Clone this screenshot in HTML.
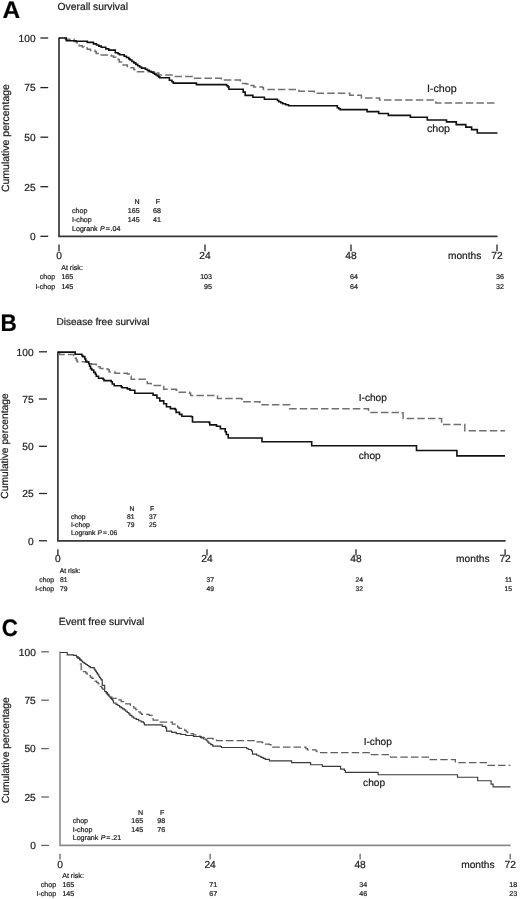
<!DOCTYPE html>
<html><head><meta charset="utf-8"><title>Survival curves</title>
<style>
html,body{margin:0;padding:0;background:#fff;}
body{width:520px;height:899px;overflow:hidden;}
svg{display:block;}
text{font-family:"Liberation Sans", Arial, sans-serif;text-rendering:geometricPrecision;stroke:#222;stroke-width:0.22px;}
</style></head>
<body>
<svg width="520" height="899" viewBox="0 0 520 899">
<rect width="520" height="899" fill="#fff"/>
<text transform="translate(2.6,18.0) scale(1.02,1)" font-size="24" font-weight="bold" fill="#000">A</text>
<text x="57.6" y="9.6" font-size="10.3" fill="#1a1a1a">Overall survival</text>
<text transform="translate(9.0,138.1) rotate(-90)" text-anchor="middle" font-size="10.5" fill="#1a1a1a">Cumulative percentage</text>
<line x1="40.4" y1="38.0" x2="48.2" y2="38.0" stroke="#222" stroke-width="1.3"/>
<text x="35.6" y="41.8" text-anchor="end" font-size="10.2" fill="#1a1a1a">100</text>
<line x1="40.4" y1="87.6" x2="48.2" y2="87.6" stroke="#222" stroke-width="1.3"/>
<text x="35.6" y="91.4" text-anchor="end" font-size="10.2" fill="#1a1a1a">75</text>
<line x1="40.4" y1="137.2" x2="48.2" y2="137.2" stroke="#222" stroke-width="1.3"/>
<text x="35.6" y="141.0" text-anchor="end" font-size="10.2" fill="#1a1a1a">50</text>
<line x1="40.4" y1="186.7" x2="48.2" y2="186.7" stroke="#222" stroke-width="1.3"/>
<text x="35.6" y="190.5" text-anchor="end" font-size="10.2" fill="#1a1a1a">25</text>
<line x1="40.4" y1="236.3" x2="48.2" y2="236.3" stroke="#222" stroke-width="1.3"/>
<text x="35.6" y="240.1" text-anchor="end" font-size="10.2" fill="#1a1a1a">0</text>
<polyline points="59.0,37.6 59.0,236.3 497.5,236.3" fill="none" stroke="#383838" stroke-width="1.7"/>
<line x1="59.0" y1="244.4" x2="59.0" y2="251.2" stroke="#222" stroke-width="1.3"/>
<text x="59.0" y="259.0" text-anchor="middle" font-size="10.2" fill="#1a1a1a">0</text>
<line x1="205.0" y1="244.4" x2="205.0" y2="251.2" stroke="#222" stroke-width="1.3"/>
<text x="205.0" y="259.0" text-anchor="middle" font-size="10.2" fill="#1a1a1a">24</text>
<line x1="351.0" y1="244.4" x2="351.0" y2="251.2" stroke="#222" stroke-width="1.3"/>
<text x="351.0" y="259.0" text-anchor="middle" font-size="10.2" fill="#1a1a1a">48</text>
<line x1="497.0" y1="244.4" x2="497.0" y2="251.2" stroke="#222" stroke-width="1.3"/>
<text x="497.0" y="259.0" text-anchor="middle" font-size="10.2" fill="#1a1a1a">72</text>
<text x="481.4" y="259.0" text-anchor="end" font-size="10.2" fill="#1a1a1a">months</text>
<text x="61.199999999999996" y="270.0" font-size="7.1" fill="#222">At risk:</text>
<text x="55.1" y="279.2" text-anchor="end" font-size="7.1" fill="#222">chop</text>
<text x="55.1" y="288.5" text-anchor="end" font-size="7.1" fill="#222">I-chop</text>
<text x="61.4" y="279.2" font-size="7.1" fill="#222">165</text>
<text x="61.4" y="288.5" font-size="7.1" fill="#222">145</text>
<text x="212.0" y="279.2" text-anchor="end" font-size="7.1" fill="#222">103</text>
<text x="212.0" y="288.5" text-anchor="end" font-size="7.1" fill="#222">95</text>
<text x="358.0" y="279.2" text-anchor="end" font-size="7.1" fill="#222">64</text>
<text x="358.0" y="288.5" text-anchor="end" font-size="7.1" fill="#222">64</text>
<text x="504.0" y="279.2" text-anchor="end" font-size="7.1" fill="#222">36</text>
<text x="504.0" y="288.5" text-anchor="end" font-size="7.1" fill="#222">32</text>
<text x="139.7" y="204.3" text-anchor="end" font-size="7.1" fill="#222">N</text>
<text x="157.8" y="204.3" text-anchor="middle" font-size="7.1" fill="#222">F</text>
<text x="72.0" y="213.0" font-size="7.1" fill="#222">chop</text>
<text x="72.0" y="222.3" font-size="7.1" fill="#222">I-chop</text>
<text x="72.0" y="231.1" font-size="7.1" fill="#222">Logrank <tspan dx="0.4" font-style="italic">P</tspan><tspan dx="0.9">=</tspan><tspan dx="0.8">.04</tspan></text>
<text x="139.7" y="213.0" text-anchor="end" font-size="7.1" fill="#222">165</text>
<text x="161.0" y="213.0" text-anchor="end" font-size="7.1" fill="#222">68</text>
<text x="139.7" y="222.3" text-anchor="end" font-size="7.1" fill="#222">145</text>
<text x="161.0" y="222.3" text-anchor="end" font-size="7.1" fill="#222">41</text>
<text x="426.9" y="92.1" font-size="10.7" fill="#1a1a1a">I-chop</text>
<text x="426.9" y="132.0" font-size="10.7" fill="#1a1a1a">chop</text>
<polyline points="64.5,38.0 65.5,38.0 65.5,39.3 73.0,39.3 74.0,39.3 74.0,41.4 74.9,41.4 76.5,41.4 76.5,42.7 78.0,42.7 78.0,44.0 79.2,44.0 79.2,45.7 80.4,45.7 82.3,45.7 82.3,46.9 84.2,46.9 84.2,48.1 87.3,48.1 87.3,49.2 90.4,49.2 90.4,50.4 95.0,50.4 95.0,51.6 96.2,51.6 96.2,53.5 97.3,53.5 101.2,53.5 101.2,55.0 108.8,55.0 111.2,55.0 111.2,56.1 113.5,56.1 113.5,57.3 115.8,57.3 115.8,58.5 118.1,58.5 118.1,59.6 119.2,59.6 119.2,61.9 120.4,61.9 121.6,61.9 121.6,65.0 122.7,65.0 127.3,65.0 127.3,66.6 130.0,66.6 130.0,67.7 133.8,67.7 133.8,69.6 134.8,69.6 134.8,71.7 135.8,71.7 155.0,71.7 155.0,73.1 158.8,73.1 158.8,75.0 170.4,75.0 174.2,75.0 174.2,76.4 191.5,76.4 192.5,76.4 192.5,78.3 193.5,78.3 220.4,78.3 221.4,78.3 221.4,80.1 222.3,80.1 239.4,80.1 240.4,80.1 240.4,83.4 246.2,83.4 246.2,83.9 250.0,83.9 250.0,85.4 253.8,85.4 253.8,86.9 262.5,86.9 262.5,87.4 263.4,87.4 263.4,89.6 264.4,89.6 296.2,89.6 299.0,89.6 299.0,91.2 313.5,91.2 314.4,91.2 314.4,93.3 315.4,93.3 348.8,93.3 349.8,93.3 349.8,95.2 350.8,95.2 360.4,95.2 361.4,95.2 361.4,97.9 362.3,97.9 378.7,97.9 379.6,97.9 379.6,100.1 435.0,100.1 435.9,100.1 435.9,103.1 436.9,103.1 497.5,103.1" fill="none" stroke="#707070" stroke-width="1.5" stroke-dasharray="7.5 3.1" stroke-linejoin="miter"/>
<polyline points="59.0,38.0 65.4,38.0 66.3,38.0 66.3,40.7 67.3,40.7 73.0,40.7 76.0,40.8 76.0,41.3 82.7,41.3 87.3,41.3 87.3,42.4 93.5,42.4 93.5,43.9 96.5,43.9 96.5,45.0 98.8,45.0 98.8,46.1 101.2,46.1 101.2,47.3 105.8,47.3 105.8,48.9 108.8,48.9 108.8,50.1 114.2,50.1 115.3,50.1 115.3,52.7 116.5,52.7 118.0,52.7 118.0,53.7 119.6,53.7 119.6,54.7 124.2,54.7 124.2,56.2 126.5,56.2 126.5,57.5 128.8,57.5 128.8,58.9 130.0,58.9 130.0,60.0 131.9,60.0 131.9,61.5 133.8,61.5 133.8,62.9 135.8,62.9 135.8,64.4 137.7,64.4 137.7,65.8 139.6,65.8 139.6,67.0 141.5,67.0 141.5,68.1 145.4,68.1 145.4,69.2 147.3,69.2 147.3,70.2 149.2,70.2 149.2,71.2 151.1,71.2 151.1,72.2 153.1,72.2 153.1,73.1 154.6,73.1 154.6,74.1 156.0,74.1 156.0,75.0 157.4,75.0 157.4,76.0 158.8,76.0 158.8,76.9 159.8,76.9 159.8,77.7 160.8,77.7 168.5,77.7 169.4,77.7 169.4,80.2 170.4,80.2 171.9,80.2 171.9,81.7 173.3,81.7 173.3,83.1 195.4,83.1 196.4,83.1 196.4,84.6 197.3,84.6 225.2,84.6 226.6,84.6 226.6,85.8 228.0,85.8 228.0,86.9 228.9,86.9 228.9,89.2 229.8,89.2 242.3,89.2 243.2,89.2 243.2,92.1 244.2,92.1 245.2,92.1 245.2,95.4 246.2,95.4 251.9,95.4 252.9,95.4 252.9,97.3 253.8,97.3 263.5,97.3 264.4,97.3 264.4,99.2 276.0,99.2 277.4,99.2 277.4,100.5 278.8,100.5 278.8,101.7 280.8,101.7 280.8,102.7 282.7,102.7 282.7,103.7 285.6,103.7 285.6,104.8 288.5,104.8 288.5,105.8 336.3,105.8 337.3,105.8 337.3,107.7 338.8,107.7 338.8,108.7 340.2,108.7 340.2,109.6 366.2,109.6 367.1,109.6 367.1,111.6 377.7,111.6 378.7,111.6 378.7,113.5 387.3,113.5 388.3,113.5 388.3,115.4 409.4,115.4 410.4,115.4 410.4,117.3 426.3,117.3 427.3,117.3 427.3,120.0 428.3,120.0 445.6,120.0 446.5,120.0 446.5,121.9 455.2,121.9 456.2,121.9 456.2,124.6 464.8,124.6 465.8,124.6 465.8,127.1 470.6,127.1 471.6,127.1 471.6,129.6 472.5,129.6 476.3,129.6 477.3,129.6 477.3,133.0 478.3,133.0 497.5,133.0" fill="none" stroke="#111" stroke-width="1.6" stroke-linejoin="miter"/>
<text transform="translate(0.5,331.2) scale(0.94,1)" font-size="24" font-weight="bold" fill="#000">B</text>
<text x="56.6" y="325.0" font-size="10.0" fill="#1a1a1a">Disease free survival</text>
<text transform="translate(8.4,446.0) rotate(-90)" text-anchor="middle" font-size="10.25" fill="#1a1a1a">Cumulative percentage</text>
<line x1="38.9" y1="351.8" x2="47.0" y2="351.8" stroke="#282828" stroke-width="1.3"/>
<text x="33.6" y="355.6" text-anchor="end" font-size="10.2" fill="#1a1a1a">100</text>
<line x1="38.9" y1="399.0" x2="47.0" y2="399.0" stroke="#282828" stroke-width="1.3"/>
<text x="33.6" y="402.8" text-anchor="end" font-size="10.2" fill="#1a1a1a">75</text>
<line x1="38.9" y1="446.3" x2="47.0" y2="446.3" stroke="#282828" stroke-width="1.3"/>
<text x="33.6" y="450.1" text-anchor="end" font-size="10.2" fill="#1a1a1a">50</text>
<line x1="38.9" y1="493.5" x2="47.0" y2="493.5" stroke="#282828" stroke-width="1.3"/>
<text x="33.6" y="497.3" text-anchor="end" font-size="10.2" fill="#1a1a1a">25</text>
<line x1="38.9" y1="540.8" x2="47.0" y2="540.8" stroke="#282828" stroke-width="1.3"/>
<text x="33.6" y="544.6" text-anchor="end" font-size="10.2" fill="#1a1a1a">0</text>
<polyline points="57.9,351.4 57.9,540.8 505.6,540.8" fill="none" stroke="#383838" stroke-width="1.7"/>
<line x1="57.9" y1="549.2" x2="57.9" y2="555.4" stroke="#282828" stroke-width="1.3"/>
<text x="57.9" y="562.4" text-anchor="middle" font-size="10.2" fill="#1a1a1a">0</text>
<line x1="207.0" y1="549.2" x2="207.0" y2="555.4" stroke="#282828" stroke-width="1.3"/>
<text x="207.0" y="562.4" text-anchor="middle" font-size="10.2" fill="#1a1a1a">24</text>
<line x1="356.0" y1="549.2" x2="356.0" y2="555.4" stroke="#282828" stroke-width="1.3"/>
<text x="356.0" y="562.4" text-anchor="middle" font-size="10.2" fill="#1a1a1a">48</text>
<line x1="505.1" y1="549.2" x2="505.1" y2="555.4" stroke="#282828" stroke-width="1.3"/>
<text x="505.1" y="562.4" text-anchor="middle" font-size="10.2" fill="#1a1a1a">72</text>
<text x="489.5" y="562.4" text-anchor="end" font-size="10.2" fill="#1a1a1a">months</text>
<text x="59.8" y="572.8" font-size="6.75" fill="#222">At risk:</text>
<text x="54.0" y="581.8" text-anchor="end" font-size="6.75" fill="#222">chop</text>
<text x="54.0" y="590.8" text-anchor="end" font-size="6.75" fill="#222">I-chop</text>
<text x="60.0" y="581.8" font-size="6.75" fill="#222">81</text>
<text x="60.0" y="590.8" font-size="6.75" fill="#222">79</text>
<text x="214.0" y="581.8" text-anchor="end" font-size="6.75" fill="#222">37</text>
<text x="214.0" y="590.8" text-anchor="end" font-size="6.75" fill="#222">49</text>
<text x="363.0" y="581.8" text-anchor="end" font-size="6.75" fill="#222">24</text>
<text x="363.0" y="590.8" text-anchor="end" font-size="6.75" fill="#222">32</text>
<text x="512.1" y="581.8" text-anchor="end" font-size="6.75" fill="#222">11</text>
<text x="512.1" y="590.8" text-anchor="end" font-size="6.75" fill="#222">15</text>
<text x="134.4" y="510.7" text-anchor="end" font-size="6.75" fill="#222">N</text>
<text x="152.0" y="510.7" text-anchor="middle" font-size="6.75" fill="#222">F</text>
<text x="70.9" y="519.2" font-size="6.75" fill="#222">chop</text>
<text x="70.9" y="527.3" font-size="6.75" fill="#222">I-chop</text>
<text x="70.9" y="535.4" font-size="6.75" fill="#222">Logrank <tspan dx="0.4" font-style="italic">P</tspan><tspan dx="0.9">=</tspan><tspan dx="0.8">.06</tspan></text>
<text x="134.4" y="519.2" text-anchor="end" font-size="6.75" fill="#222">81</text>
<text x="156.5" y="519.2" text-anchor="end" font-size="6.75" fill="#222">37</text>
<text x="134.4" y="527.3" text-anchor="end" font-size="6.75" fill="#222">79</text>
<text x="156.5" y="527.3" text-anchor="end" font-size="6.75" fill="#222">25</text>
<text x="358.8" y="400.8" font-size="10.1" fill="#1a1a1a">I-chop</text>
<text x="358.8" y="458.8" font-size="10.1" fill="#1a1a1a">chop</text>
<polyline points="59.6,352.1 59.6,354.4 72.8,354.4 73.8,354.4 73.8,355.6 74.7,355.6 75.2,355.6 75.2,358.0 76.2,358.0 76.2,359.9 77.1,359.9 77.1,361.8 84.8,361.8 86.0,361.8 86.0,362.3 87.2,362.3 88.2,362.3 88.2,363.8 91.5,363.8 91.5,364.3 96.3,364.3 96.3,364.7 97.0,364.7 97.0,365.7 97.8,365.7 98.5,365.7 98.5,366.7 99.2,366.7 100.2,366.7 100.2,368.6 101.2,368.6 105.0,368.6 105.0,369.1 108.1,369.1 108.1,369.8 109.2,369.8 109.2,372.0 110.4,372.0 115.0,372.0 115.0,373.2 127.3,373.2 127.3,374.0 130.4,374.0 130.4,376.3 131.2,376.3 131.2,379.3 131.9,379.3 146.3,379.3 147.3,379.3 147.3,383.6 148.3,383.6 151.2,383.6 151.2,385.5 160.8,385.5 160.8,386.5 163.7,386.5 163.7,389.3 176.2,389.3 176.2,390.3 177.1,390.3 177.1,392.2 178.1,392.2 189.6,392.2 189.6,393.2 190.6,393.2 190.6,395.5 191.5,395.5 214.6,395.5 214.6,396.1 217.5,396.1 217.5,398.5 240.9,398.5 241.9,398.5 241.9,401.7 243.0,401.7 256.7,401.7 259.9,401.7 259.9,404.8 288.5,404.8 289.6,404.8 289.6,408.7 290.6,408.7 367.5,408.7 368.5,408.7 368.5,412.4 402.1,412.4 402.1,412.8 403.1,412.8 403.1,418.4 441.0,418.4 441.6,418.4 441.6,424.6 463.9,424.6 464.8,424.6 464.8,430.7 505.0,430.7" fill="none" stroke="#707070" stroke-width="1.5" stroke-dasharray="7.5 3.1" stroke-linejoin="miter"/>
<polyline points="57.8,352.1 74.2,352.1 75.2,352.1 75.2,354.2 81.0,354.2 81.9,354.2 81.9,355.6 82.8,355.6 82.8,356.6 83.8,356.6 84.8,356.6 84.8,359.0 85.8,359.0 85.8,361.4 87.0,361.4 87.0,361.8 88.2,361.8 88.7,361.8 88.7,363.8 89.6,363.8 89.6,366.2 90.6,366.2 90.6,368.6 91.8,368.6 91.8,370.0 93.0,370.0 93.7,370.0 93.7,372.4 94.4,372.4 95.4,372.4 95.4,374.3 96.3,374.3 96.3,376.3 97.3,376.3 98.5,376.3 98.5,378.2 99.7,378.2 103.1,378.2 103.1,379.2 104.0,379.2 104.0,380.6 105.0,380.6 111.2,380.6 111.2,381.7 112.3,381.7 112.3,384.0 113.5,384.0 114.2,384.0 114.2,385.8 115.0,385.8 121.2,385.8 121.2,386.7 122.0,386.7 122.0,387.8 122.7,387.8 127.3,387.8 127.3,388.9 130.0,388.9 130.0,390.3 134.8,390.3 134.8,393.2 152.1,393.2 153.1,393.2 153.1,395.1 154.0,395.1 156.9,395.1 156.9,398.0 159.8,398.0 159.8,400.9 163.7,400.9 163.7,403.8 166.5,403.8 166.5,406.7 170.4,406.7 170.4,408.6 175.2,408.6 175.2,409.5 176.1,409.5 176.1,412.4 177.1,412.4 179.5,412.4 179.5,414.4 181.9,414.4 181.9,416.3 191.5,416.3 191.5,416.7 192.5,416.7 192.5,422.0 193.5,422.0 208.8,422.0 208.8,422.4 209.8,422.4 209.8,424.9 210.8,424.9 216.5,424.9 216.5,426.3 220.4,426.3 220.4,428.8 225.2,428.8 225.2,431.7 226.3,431.7 226.3,434.5 227.5,434.5 228.2,434.5 228.2,438.0 261.0,438.0 262.0,438.0 262.0,441.8 310.7,441.8 311.7,441.8 311.7,445.8 415.8,445.8 416.5,445.8 416.5,450.5 456.6,450.5 456.9,450.5 456.9,455.9 505.0,455.9" fill="none" stroke="#111" stroke-width="1.6" stroke-linejoin="miter"/>
<text transform="translate(1.8,636.0) scale(0.93,1)" font-size="24" font-weight="bold" fill="#000">C</text>
<text x="58.8" y="625.0" font-size="10.4" fill="#1a1a1a">Event free survival</text>
<text transform="translate(9.4,750.2) rotate(-90)" text-anchor="middle" font-size="10.3" fill="#1a1a1a">Cumulative percentage</text>
<line x1="41.2" y1="651.8" x2="48.9" y2="651.8" stroke="#666" stroke-width="1.3"/>
<text x="35.8" y="655.6" text-anchor="end" font-size="10.2" fill="#1a1a1a">100</text>
<line x1="41.2" y1="700.2" x2="48.9" y2="700.2" stroke="#666" stroke-width="1.3"/>
<text x="35.8" y="704.0" text-anchor="end" font-size="10.2" fill="#1a1a1a">75</text>
<line x1="41.2" y1="748.6" x2="48.9" y2="748.6" stroke="#666" stroke-width="1.3"/>
<text x="35.8" y="752.4" text-anchor="end" font-size="10.2" fill="#1a1a1a">50</text>
<line x1="41.2" y1="797.0" x2="48.9" y2="797.0" stroke="#666" stroke-width="1.3"/>
<text x="35.8" y="800.8" text-anchor="end" font-size="10.2" fill="#1a1a1a">25</text>
<line x1="41.2" y1="845.4" x2="48.9" y2="845.4" stroke="#666" stroke-width="1.3"/>
<text x="35.8" y="849.2" text-anchor="end" font-size="10.2" fill="#1a1a1a">0</text>
<polyline points="60.0,651.4 60.0,845.4 510.7,845.4" fill="none" stroke="#8a8a8a" stroke-width="1.6"/>
<line x1="60.0" y1="853.8" x2="60.0" y2="859.6" stroke="#666" stroke-width="1.3"/>
<text x="60.0" y="867.7" text-anchor="middle" font-size="10.2" fill="#1a1a1a">0</text>
<line x1="210.1" y1="853.8" x2="210.1" y2="859.6" stroke="#666" stroke-width="1.3"/>
<text x="210.1" y="867.7" text-anchor="middle" font-size="10.2" fill="#1a1a1a">24</text>
<line x1="360.1" y1="853.8" x2="360.1" y2="859.6" stroke="#666" stroke-width="1.3"/>
<text x="360.1" y="867.7" text-anchor="middle" font-size="10.2" fill="#1a1a1a">48</text>
<line x1="510.2" y1="853.8" x2="510.2" y2="859.6" stroke="#666" stroke-width="1.3"/>
<text x="510.2" y="867.7" text-anchor="middle" font-size="10.2" fill="#1a1a1a">72</text>
<text x="494.6" y="867.7" text-anchor="end" font-size="10.2" fill="#1a1a1a">months</text>
<text x="62.199999999999996" y="878.2" font-size="7.1" fill="#222">At risk:</text>
<text x="56.2" y="887.0" text-anchor="end" font-size="7.1" fill="#222">chop</text>
<text x="56.2" y="895.9" text-anchor="end" font-size="7.1" fill="#222">I-chop</text>
<text x="62.4" y="887.0" font-size="7.1" fill="#222">165</text>
<text x="62.4" y="895.9" font-size="7.1" fill="#222">145</text>
<text x="217.1" y="887.0" text-anchor="end" font-size="7.1" fill="#222">71</text>
<text x="217.1" y="895.9" text-anchor="end" font-size="7.1" fill="#222">67</text>
<text x="367.1" y="887.0" text-anchor="end" font-size="7.1" fill="#222">34</text>
<text x="367.1" y="895.9" text-anchor="end" font-size="7.1" fill="#222">46</text>
<text x="517.2" y="887.0" text-anchor="end" font-size="7.1" fill="#222">18</text>
<text x="517.2" y="895.9" text-anchor="end" font-size="7.1" fill="#222">23</text>
<text x="143.1" y="814.5" text-anchor="end" font-size="7.1" fill="#222">N</text>
<text x="162.2" y="814.5" text-anchor="middle" font-size="7.1" fill="#222">F</text>
<text x="72.7" y="823.1" font-size="7.1" fill="#222">chop</text>
<text x="72.7" y="831.6" font-size="7.1" fill="#222">I-chop</text>
<text x="72.7" y="839.7" font-size="7.1" fill="#222">Logrank <tspan dx="0.4" font-style="italic">P</tspan><tspan dx="0.9">=</tspan><tspan dx="0.8">.21</tspan></text>
<text x="143.1" y="823.1" text-anchor="end" font-size="7.1" fill="#222">165</text>
<text x="165.1" y="823.1" text-anchor="end" font-size="7.1" fill="#222">98</text>
<text x="143.1" y="831.6" text-anchor="end" font-size="7.1" fill="#222">145</text>
<text x="165.1" y="831.6" text-anchor="end" font-size="7.1" fill="#222">76</text>
<text x="363.7" y="744.6" font-size="10.15" fill="#1a1a1a">I-chop</text>
<text x="363.1" y="785.6" font-size="10.15" fill="#1a1a1a">chop</text>
<polyline points="76.5,656.8 78.0,656.8 78.0,658.3 79.6,658.3 79.6,659.9 80.4,659.9 80.4,663.8 81.2,663.8 81.2,669.9 83.5,669.9 83.5,671.5 85.8,671.5 85.8,673.0 87.3,673.0 87.3,674.4 88.8,674.4 88.8,675.7 90.4,675.7 90.4,677.0 91.9,677.0 91.9,678.4 93.5,678.4 93.5,679.8 95.0,679.8 95.0,681.1 96.5,681.1 96.5,682.4 98.1,682.4 98.1,683.8 99.2,683.8 99.2,685.1 100.4,685.1 100.4,686.4 101.5,686.4 101.5,687.8 102.7,687.8 102.7,689.1 103.8,689.1 103.8,690.4 105.0,690.4 105.0,691.8 106.2,691.8 106.2,693.1 107.3,693.1 107.3,694.5 108.8,694.5 108.8,695.8 110.4,695.8 110.4,697.1 111.9,697.1 111.9,698.4 116.5,698.4 116.5,699.9 121.2,699.9 121.2,701.5 123.5,701.5 123.5,702.6 125.8,702.6 125.8,703.8 130.4,703.8 130.4,705.3 131.2,705.3 131.2,706.6 131.9,706.6 133.9,706.6 133.9,708.0 135.8,708.0 135.8,709.5 137.2,709.5 137.2,710.7 138.7,710.7 138.7,711.9 140.1,711.9 140.1,713.1 141.5,713.1 141.5,714.3 149.2,714.3 149.2,715.3 152.1,715.3 152.1,717.2 153.1,717.2 153.1,720.1 157.9,720.1 157.9,722.0 172.3,722.0 172.3,724.0 176.2,724.0 176.2,725.9 177.6,725.9 177.6,727.1 179.0,727.1 179.0,728.4 184.8,728.4 184.8,730.3 186.2,730.3 186.2,731.9 187.7,731.9 187.7,733.6 193.5,733.6 193.5,734.9 196.8,734.9 196.8,736.1 200.2,736.1 200.2,737.4 205.0,737.4 205.0,738.4 212.7,738.4 212.7,738.8 216.5,738.8 216.5,740.5 252.5,740.5 255.7,740.5 255.7,741.9 262.0,741.9 262.0,742.5 263.1,742.5 263.1,744.0 264.1,744.0 269.4,744.0 269.4,744.6 271.0,744.6 271.0,745.9 272.6,745.9 272.6,747.2 304.3,747.2 305.9,747.2 305.9,748.5 307.5,748.5 307.5,749.9 316.0,749.9 316.0,751.0 317.1,751.0 317.1,752.6 318.1,752.6 370.4,752.6 371.3,752.6 371.3,754.5 389.6,754.5 390.4,754.5 390.4,757.0 391.2,757.0 428.7,757.0 429.6,757.0 429.6,759.5 454.6,759.5 455.4,759.5 455.4,762.6 456.2,762.6 486.3,762.6 487.3,762.6 487.3,765.3 510.4,765.3" fill="none" stroke="#5e5e5e" stroke-width="1.25" stroke-dasharray="7.5 3.1" stroke-linejoin="miter"/>
<polyline points="60.1,652.5 66.5,652.5 67.3,652.5 67.3,654.8 68.1,654.8 73.5,654.8 73.5,655.3 76.5,655.3 76.5,656.8 78.0,656.8 78.0,657.9 79.6,657.9 79.6,659.1 80.6,659.1 80.6,660.1 81.7,660.1 81.7,661.2 82.7,661.2 82.7,662.2 84.2,662.2 84.2,663.3 85.8,663.3 85.8,664.5 87.3,664.5 87.3,665.5 88.9,665.5 88.9,666.6 90.4,666.6 90.4,667.6 94.2,667.6 94.2,669.1 95.0,669.1 95.0,670.3 95.8,670.3 95.8,671.4 96.5,671.4 96.5,672.6 97.3,672.6 97.3,673.8 98.1,673.8 98.1,675.0 98.9,675.0 98.9,676.2 99.6,676.2 99.6,677.5 100.4,677.5 100.4,678.7 101.2,678.7 101.2,679.9 102.3,679.9 102.3,685.3 103.5,685.3 104.7,685.3 104.7,691.5 105.8,691.5 106.5,691.5 106.5,692.6 107.3,692.6 107.3,693.8 108.0,693.8 108.0,694.9 108.8,694.9 108.8,696.1 109.8,696.1 109.8,697.2 110.8,697.2 110.8,698.4 111.7,698.4 111.7,699.5 112.7,699.5 112.7,700.7 113.5,700.7 113.5,703.0 114.2,703.0 116.0,703.0 116.0,704.3 117.8,704.3 117.8,705.5 119.6,705.5 119.6,706.8 121.1,706.8 121.1,707.8 122.7,707.8 122.7,708.9 124.2,708.9 124.2,709.9 125.7,709.9 125.7,711.2 127.3,711.2 127.3,712.5 128.8,712.5 128.8,713.8 130.0,713.8 130.0,715.3 131.9,715.3 131.9,716.8 133.8,716.8 133.8,718.2 136.2,718.2 136.2,719.4 138.7,719.4 138.7,720.7 141.1,720.7 141.1,721.8 143.5,721.8 143.5,723.0 144.4,723.0 144.4,724.9 145.4,724.9 158.8,724.9 162.2,724.9 162.2,726.3 165.6,726.3 165.6,727.8 166.6,727.8 166.6,731.1 167.5,731.1 171.8,731.1 171.8,732.3 176.2,732.3 176.2,733.6 181.0,733.6 181.0,734.5 185.8,734.5 185.8,735.5 193.5,735.5 193.5,736.5 201.2,736.5 201.2,738.0 203.6,738.0 203.6,739.0 206.0,739.0 206.0,739.9 206.9,739.9 206.9,741.0 207.9,741.0 207.9,742.1 208.8,742.1 208.8,743.2 210.8,743.2 210.8,744.6 212.7,744.6 212.7,746.1 220.4,746.1 220.4,746.5 221.4,746.5 221.4,747.5 222.3,747.5 245.1,747.5 246.7,747.5 246.7,748.5 248.3,748.5 248.3,749.5 251.4,749.5 251.4,751.0 252.5,751.0 252.5,754.1 256.7,754.1 256.7,755.2 258.9,755.2 258.9,756.2 261.0,756.2 261.0,757.3 263.1,757.3 263.1,758.3 265.2,758.3 265.2,759.4 269.4,759.4 269.4,760.9 290.6,760.9 291.6,760.9 291.6,762.6 292.7,762.6 309.6,762.6 310.6,762.6 310.6,764.7 311.7,764.7 321.3,764.7 322.4,764.7 322.4,766.3 323.4,766.3 339.6,766.3 340.6,766.3 340.6,769.1 341.5,769.1 344.4,769.1 344.4,770.5 345.4,770.5 345.4,772.4 346.3,772.4 377.1,772.4 378.1,772.4 378.1,774.7 456.9,774.7 457.5,774.7 457.5,777.2 477.3,777.2 477.7,777.2 477.7,780.7 490.2,780.7 491.1,780.7 491.1,784.1 492.1,784.1 493.1,784.1 493.1,786.8 510.4,786.8" fill="none" stroke="#3a3a3a" stroke-width="1.15" stroke-linejoin="miter"/>
</svg>
</body></html>
